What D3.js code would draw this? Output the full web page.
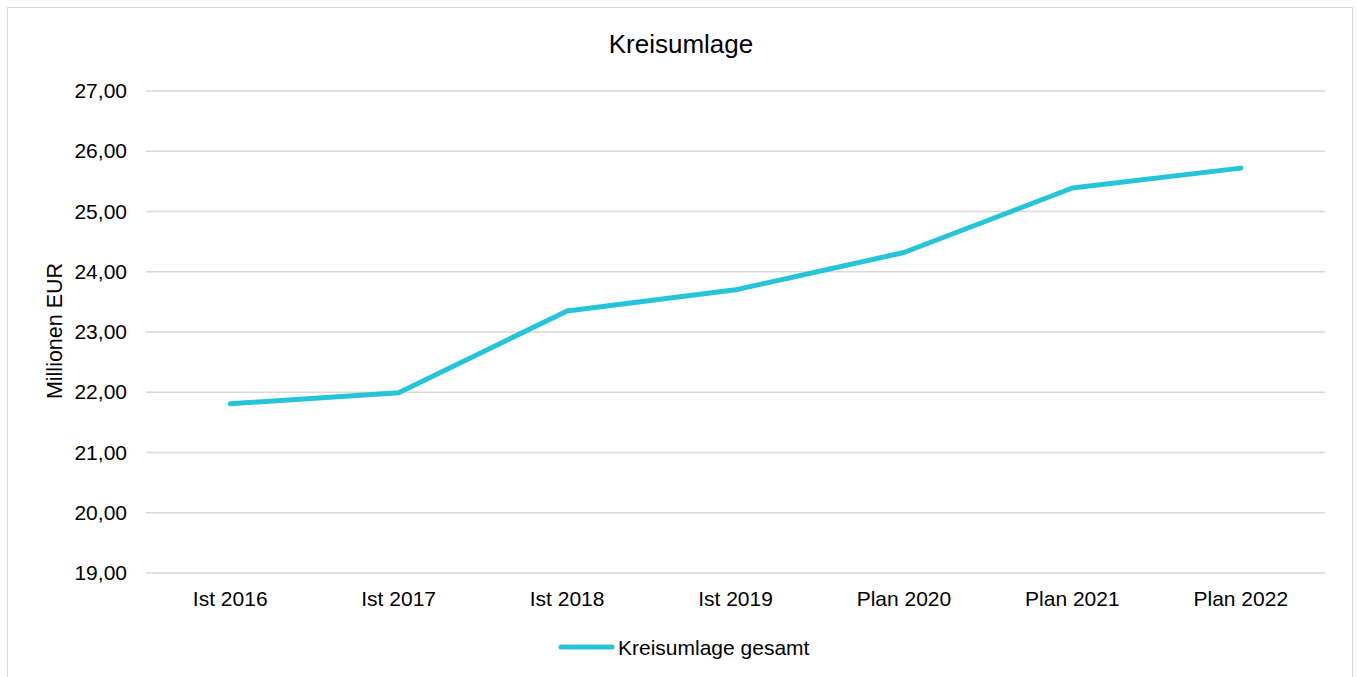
<!DOCTYPE html>
<html><head><meta charset="utf-8">
<script src="https://cdn.jsdelivr.net/npm/d3@7"></script>
<style>body{margin:0;background:#fff}svg{display:block;font-family:"Liberation Sans",Arial,sans-serif}</style>
</head><body>
<svg id="c" width="1358" height="677"></svg>
<script>
const categories = ["Ist 2016","Ist 2017","Ist 2018","Ist 2019","Plan 2020","Plan 2021","Plan 2022"];
const values = [21.81, 21.99, 23.35, 23.70, 24.32, 25.39, 25.72];
const yTicks = [19,20,21,22,23,24,25,26,27];
const seriesName = "Kreisumlage gesamt";
const title = "Kreisumlage";
const yLabel = "Millionen EUR";

(function(){
const svg = d3.select("#c");
svg.append("rect").attr("x",7.5).attr("y",7.5).attr("width",1345).attr("height",700)
  .attr("fill","#fff").attr("stroke","#d9d9d9").attr("stroke-width",1);

const pL=146, pR=1325, pT=91, pB=573;
const x = d3.scaleBand().domain(categories).range([pL,pR]);
const y = d3.scaleLinear().domain([19,27]).range([pB,pT]);
const fmt = v => d3.format(".2f")(v).replace(".",",");

svg.append("g").selectAll("line").data(yTicks).join("line")
  .attr("x1",pL).attr("x2",pR).attr("y1",d=>y(d)).attr("y2",d=>y(d))
  .attr("stroke","#d9d9d9").attr("stroke-width",1.5);

const yAxis = svg.append("g").attr("transform",`translate(${pL},0)`)
  .call(d3.axisLeft(y).tickValues(yTicks).tickFormat(fmt).tickSize(0).tickPadding(19));
yAxis.select(".domain").remove();
yAxis.selectAll("text").attr("font-size",21).attr("fill","#000").attr("font-family","Liberation Sans, Arial, sans-serif");

const xAxis = svg.append("g").attr("transform",`translate(0,${pB})`)
  .call(d3.axisBottom(x).tickSize(0).tickPadding(18));
xAxis.select(".domain").remove();
xAxis.selectAll("text").attr("font-size",21).attr("fill","#000").attr("font-family","Liberation Sans, Arial, sans-serif");

svg.append("text").attr("x",681).attr("y",53).attr("text-anchor","middle")
  .attr("font-size",26).attr("fill","#000").text(title);

svg.append("text").attr("transform","translate(62,331) rotate(-90)").attr("text-anchor","middle")
  .attr("font-size",21.5).attr("fill","#000").text(yLabel);

const line = d3.line().x((d,i)=>x(categories[i])+x.bandwidth()/2).y(d=>y(d));
svg.append("path").datum(values).attr("d",line).attr("fill","none")
  .attr("stroke","#26C4D9").attr("stroke-width",5).attr("stroke-linecap","round").attr("stroke-linejoin","round");

const lg = svg.append("g");
lg.append("line").attr("x1",561).attr("x2",612).attr("y1",647).attr("y2",647)
  .attr("stroke","#26C4D9").attr("stroke-width",5).attr("stroke-linecap","round");
lg.append("text").attr("x",618).attr("y",655).attr("font-size",21).attr("fill","#000").text(seriesName);
})();
</script>
</body></html>
